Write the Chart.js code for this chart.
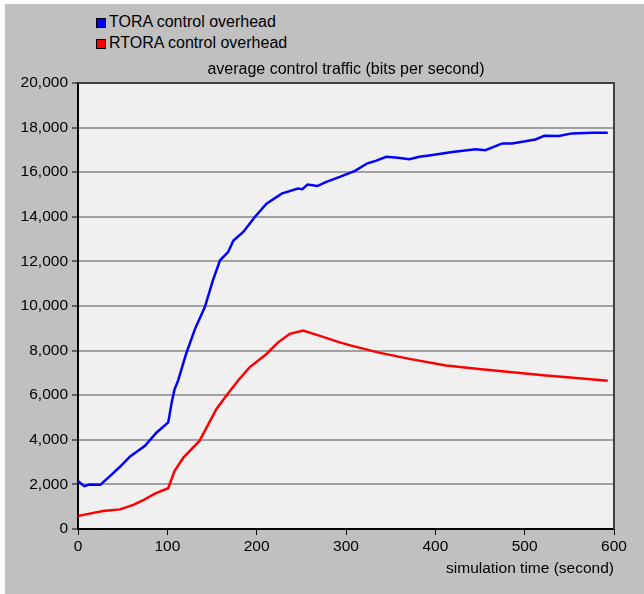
<!DOCTYPE html>
<html>
<head>
<meta charset="utf-8">
<script src="https://cdn.jsdelivr.net/npm/chart.js@4.4.1/dist/chart.umd.min.js"></script>
<style>
  html, body { margin: 0; padding: 0; background: #ffffff; }
  #wrap { position: relative; width: 644px; height: 594px; overflow: hidden; }
  #panel { position: absolute; left: 5px; top: 4px; right: 0; bottom: 0; background: #c0c0c0; }
  #chart { position: absolute; left: 0; top: 0; }
  .leg { position: absolute; left: 96px; height: 20px; line-height: 20px;
         font-family: "Liberation Sans", Arial, sans-serif; font-size: 16px; color: #000; white-space: nowrap; }
  .leg span { display: inline-block; width: 10px; height: 10px; box-sizing: border-box;
              border: 1px solid #000; margin-right: 3px; vertical-align: -1px; }
</style>
</head>
<body>
<div id="wrap">
  <div id="panel"></div>
  <div class="leg" style="top:12px"><span style="background:#0000ff"></span>TORA control overhead</div>
  <div class="leg" style="top:33px"><span style="background:#ff0000"></span>RTORA control overhead</div>
  <canvas id="chart" width="644" height="594"></canvas>
</div>
<script>
// 값은 그림에서 눈으로 읽은 것 (시간: 초, 값: bits/s)
var toraTime = [0, 7, 13, 25, 36, 47, 58, 75, 88, 101, 105, 108, 112, 121, 131, 142, 151, 159, 168, 174,
  185, 198, 211, 228, 246, 251, 257, 268, 278, 293, 310, 324, 334, 345, 358, 371, 382, 393, 419, 445,
  456, 475, 486, 512, 522, 538, 553, 576, 593];
var toraValues = [2150, 1920, 1990, 1980, 2380, 2790, 3240, 3730, 4330, 4780, 5700, 6250, 6650, 7850, 8975, 9950, 11150, 12050, 12420, 12940,
  13320, 13990, 14590, 15040, 15270, 15240, 15450, 15380, 15570, 15790, 16060, 16400, 16520, 16690, 16650, 16580, 16690, 16750, 16910, 17030,
  16990, 17290, 17290, 17470, 17630, 17620, 17740, 17770, 17770];

var rtoraTime = [0, 13, 28, 47, 62, 73, 86, 101, 108, 118, 136, 155, 166, 179, 192, 211, 224, 237, 252, 270,
  293, 308, 337, 371, 412, 449, 486, 524, 561, 593];
var rtoraValues = [580, 690, 810, 880, 1080, 1290, 1590, 1830, 2600, 3200, 3950, 5380, 5980, 6650, 7250, 7850, 8370, 8750, 8900, 8670,
  8370, 8200, 7910, 7630, 7330, 7180, 7030, 6880, 6760, 6650];

var chartTitle = 'average control traffic (bits per second)';
var xTitle = 'simulation time (second)';

var FONT = '"Liberation Sans", Arial, sans-serif';

function toPoints(xs, ys) {
  var out = [];
  for (var i = 0; i < xs.length; i++) out.push({ x: xs[i], y: ys[i] });
  return out;
}

// 플롯 배경, 위/오른쪽 테두리, 제목
var plotFrame = {
  id: 'plotFrame',
  beforeDraw: function (chart) {
    var a = chart.chartArea, ctx = chart.ctx;
    ctx.save();
    ctx.fillStyle = '#f0f0f0';
    ctx.fillRect(a.left, a.top, a.right - a.left, a.bottom - a.top);
    ctx.fillStyle = '#000';
    ctx.font = '16px ' + FONT;
    ctx.textAlign = 'center';
    ctx.textBaseline = 'middle';
    ctx.fillText(chartTitle, (a.left + a.right) / 2, a.top - 13);
    ctx.restore();
  },
  afterDatasetsDraw: function (chart) {
    var a = chart.chartArea, ctx = chart.ctx;
    ctx.save();
    ctx.strokeStyle = '#404040';
    ctx.lineWidth = 2;
    ctx.beginPath();
    ctx.moveTo(a.left, a.top);
    ctx.lineTo(a.right, a.top);
    ctx.lineTo(a.right, a.bottom);
    ctx.stroke();
    ctx.restore();
  }
};

new Chart(document.getElementById('chart'), {
  type: 'line',
  data: {
    datasets: [{
      label: 'TORA control overhead',
      data: toPoints(toraTime, toraValues),
      borderColor: '#0000ff',
      borderWidth: 2.5,
      pointRadius: 0,
      tension: 0
    }, {
      label: 'RTORA control overhead',
      data: toPoints(rtoraTime, rtoraValues),
      borderColor: '#ff0000',
      borderWidth: 2.5,
      pointRadius: 0,
      tension: 0
    }]
  },
  options: {
    responsive: false,
    animation: false,
    layout: { padding: { left: 0, right: 30, top: 83, bottom: 0 } },
    plugins: {
      legend: { display: false },
      title: { display: false },
      tooltip: { enabled: false }
    },
    scales: {
      x: {
        type: 'linear',
        min: 0,
        max: 600,
        ticks: { stepSize: 100, color: '#000', padding: 2, font: { family: FONT, size: 15.5 } },
        grid: { drawOnChartArea: false, drawTicks: true, tickLength: 6, tickColor: '#000', tickWidth: 1 },
        border: { color: '#000', width: 2 },
        title: { display: true, text: xTitle, align: 'end', color: '#000',
                 padding: { top: 0, bottom: 16 }, font: { family: FONT, size: 15.5 } },
        afterFit: function (scale) { scale.height = 65; }
      },
      y: {
        min: 0,
        max: 20000,
        ticks: {
          stepSize: 2000, color: '#000', padding: 4, font: { family: FONT, size: 15.5 },
          callback: function (v) { return v.toLocaleString('en-US'); }
        },
        grid: { color: '#a0a0a0', lineWidth: 2, drawTicks: true, tickLength: 6, tickColor: '#000', tickWidth: 1 },
        border: { color: '#000', width: 2 },
        afterFit: function (scale) { scale.width = 78; }
      }
    }
  },
  plugins: [plotFrame]
});
</script>
</body>
</html>
